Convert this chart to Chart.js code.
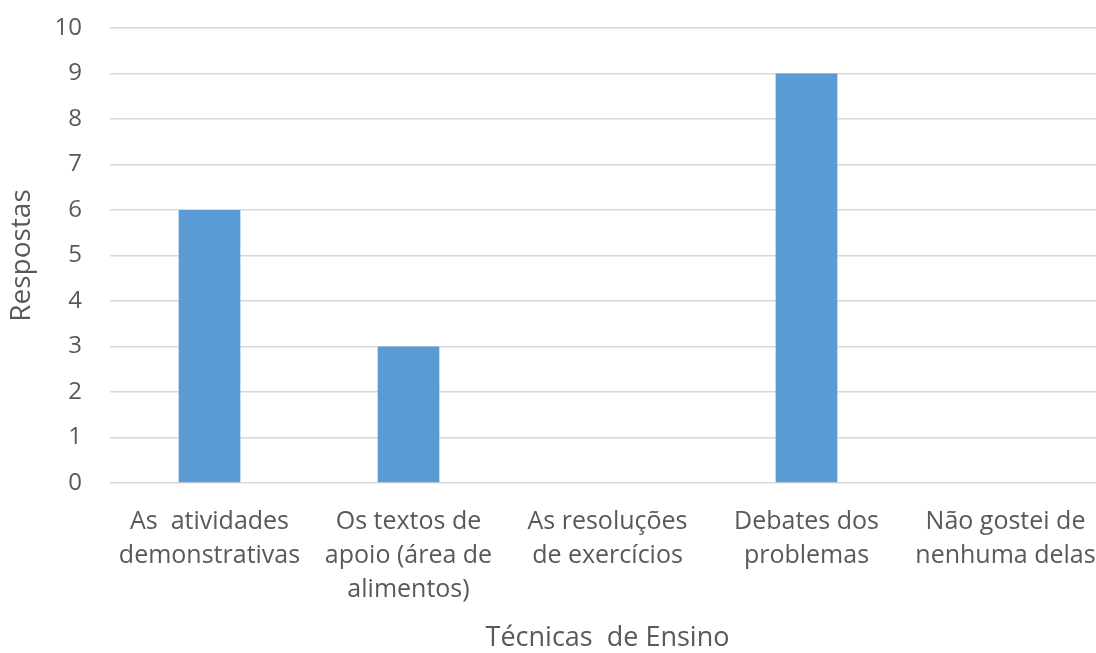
<!DOCTYPE html>
<html>
<head>
<meta charset="utf-8">
<script src="https://cdn.jsdelivr.net/npm/chart.js@4.4.1/dist/chart.umd.min.js"></script>
<style>
  html, body { margin: 0; padding: 0; background: #fff; overflow: hidden; }
  #wrap { position: relative; width: 1105px; height: 653px; }
</style>
</head>
<body>
<div id="wrap"><canvas id="barChart"></canvas></div>
<script>
const categories = [
    ['As  atividades', 'demonstrativas'],
    ['Os textos de', 'apoio (área de', 'alimentos)'],
    ['As resoluções', 'de exercícios'],
    ['Debates dos', 'problemas'],
    ['Não gostei de', 'nenhuma delas']
];
const respostas = [6, 3, 0, 9, 0];
const yTicks = [0, 1, 2, 3, 4, 5, 6, 7, 8, 9, 10];

const textColor = '#595959';
const labelFont = "'Open Sans', Lato, sans-serif";

const ctx = document.getElementById('barChart');
const barChart = new Chart(ctx, {
    type: 'bar',
    data: {
        labels: categories,
        datasets: [{
            label: 'Respostas',
            data: respostas,
            backgroundColor: '#5B9BD5',
            barPercentage: 0.31,
            categoryPercentage: 1
        }]
    },
    options: {
        responsive: true,
        maintainAspectRatio: false,
        animation: false,
        layout: {
            padding: { top: 28, left: 0, right: 0, bottom: 0 }
        },
        plugins: {
            legend: { display: false },
            tooltip: { enabled: false }
        },
        scales: {
            x: {
                grid: { display: false, drawTicks: false },
                border: { display: false },
                afterFit: function(scale) {
                    scale.height = 170;
                    // labels may spill past the last category, keep the plot full width
                    scale.paddingLeft = 0;
                    scale.paddingRight = 0;
                },
                ticks: {
                    color: textColor,
                    padding: 22,
                    maxRotation: 0,
                    autoSkip: false,
                    font: { family: labelFont, size: 25, lineHeight: 1.36 }
                },
                title: {
                    display: true,
                    text: 'Técnicas  de Ensino',
                    color: textColor,
                    padding: { top: 0, bottom: 0 },
                    font: { family: labelFont, size: 27, lineHeight: 1.1 }
                }
            },
            y: {
                min: 0,
                max: 10,
                afterFit: function(scale) {
                    scale.width = 110;
                    // tick padding would otherwise push the top gridline down
                    scale.paddingTop = 14;
                    scale.paddingBottom = 14;
                },
                afterBuildTicks: function(scale) {
                    scale.ticks = yTicks.map(v => ({ value: v }));
                },
                grid: { color: '#d9d9d9', lineWidth: 1.5, drawTicks: false },
                border: { display: false },
                ticks: {
                    color: textColor,
                    padding: 28,
                    font: { family: labelFont, size: 24 }
                },
                title: {
                    display: true,
                    text: 'Respostas',
                    color: textColor,
                    padding: { top: 5, bottom: 0 },
                    font: { family: labelFont, size: 28, lineHeight: 1.2 }
                }
            }
        }
    }
});
</script>
</body>
</html>
